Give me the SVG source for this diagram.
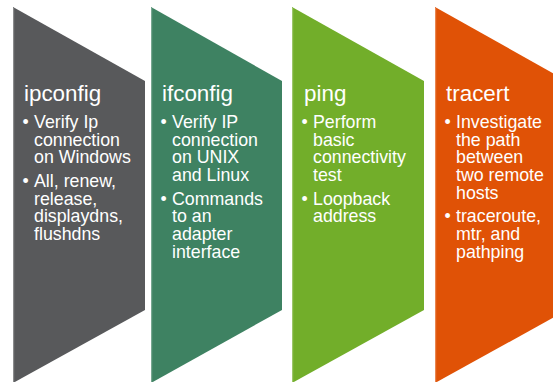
<svg xmlns="http://www.w3.org/2000/svg" width="553" height="382" viewBox="0 0 553 382">
<style>
.t{font-family:"Liberation Sans",Arial,sans-serif;fill:#ffffff}
.h{font-size:22.4px}
.b{font-size:17.8px}
.edge{stroke:#ffffff;stroke-opacity:0.3;stroke-width:1.2}
</style>
<rect width="553" height="382" fill="#ffffff"/>
<g id="ipconfig">
<polygon points="13,7 145,81 145,310 13,383" fill="#58595b"/>
<line class="edge" x1="13.6" y1="8" x2="13.6" y2="382"/>
<text class="t h" x="24" y="101">ipconfig</text>
<text class="t b" y="128"><tspan x="22.5">•</tspan><tspan x="34">Verify Ip</tspan><tspan x="34" dy="17.7">connection</tspan><tspan x="34" dy="17.7">on Windows</tspan></text>
<text class="t b" y="187"><tspan x="22.5">•</tspan><tspan x="34">All, renew,</tspan><tspan x="34" dy="17.7">release,</tspan><tspan x="34" dy="17.7">displaydns,</tspan><tspan x="34" dy="17.7">flushdns</tspan></text>
</g>
<g id="ifconfig">
<polygon points="151,7 282,81 282,310 151,383" fill="#3e8262"/>
<line class="edge" x1="151.6" y1="8" x2="151.6" y2="382"/>
<text class="t h" x="162" y="101">ifconfig</text>
<text class="t b" y="128"><tspan x="160.5">•</tspan><tspan x="172">Verify IP</tspan><tspan x="172" dy="17.7">connection</tspan><tspan x="172" dy="17.7">on UNIX</tspan><tspan x="172" dy="17.7">and Linux</tspan></text>
<text class="t b" y="204.7"><tspan x="160.5">•</tspan><tspan x="172">Commands</tspan><tspan x="172" dy="17.7">to an</tspan><tspan x="172" dy="17.7">adapter</tspan><tspan x="172" dy="17.7">interface</tspan></text>
</g>
<g id="ping">
<polygon points="292,7 424,81 424,310 292,383" fill="#72ae2a"/>
<line class="edge" x1="292.6" y1="8" x2="292.6" y2="382"/>
<text class="t h" x="304" y="101">ping</text>
<text class="t b" y="128"><tspan x="301.5">•</tspan><tspan x="313">Perform</tspan><tspan x="313" dy="17.7">basic</tspan><tspan x="313" dy="17.7">connectivity</tspan><tspan x="313" dy="17.7">test</tspan></text>
<text class="t b" y="204.7"><tspan x="301.5">•</tspan><tspan x="313">Loopback</tspan><tspan x="313" dy="17.7">address</tspan></text>
</g>
<g id="tracert">
<polygon points="435,7 567,81 567,310 435,383" fill="#e05206"/>
<line class="edge" x1="435.6" y1="8" x2="435.6" y2="382"/>
<text class="t h" x="446" y="101">tracert</text>
<text class="t b" y="128"><tspan x="444.5">•</tspan><tspan x="456">Investigate</tspan><tspan x="456" dy="17.7">the path</tspan><tspan x="456" dy="17.7">between</tspan><tspan x="456" dy="17.7">two remote</tspan><tspan x="456" dy="17.7">hosts</tspan></text>
<text class="t b" y="222.4"><tspan x="444.5">•</tspan><tspan x="456">traceroute,</tspan><tspan x="456" dy="17.7">mtr, and</tspan><tspan x="456" dy="17.7">pathping</tspan></text>
</g>
<g id="connectors"></g>
</svg>
